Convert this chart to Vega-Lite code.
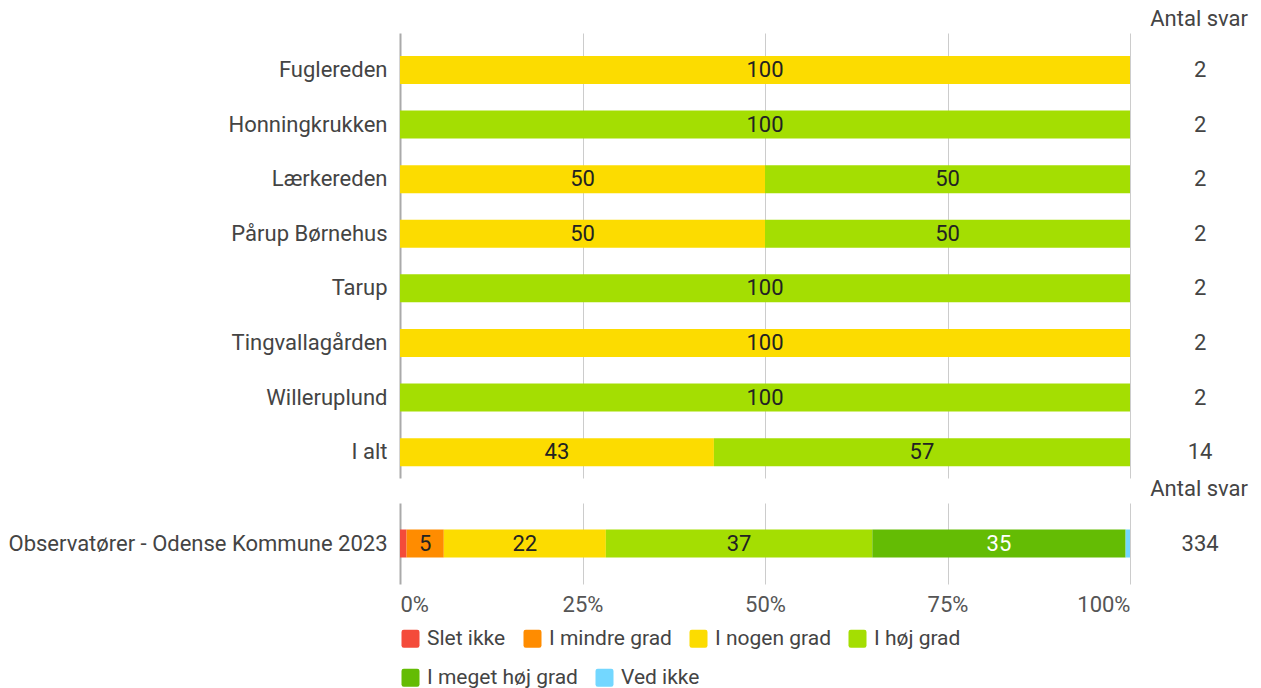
{
  "$schema": "https://vega.github.io/schema/vega-lite/v6.json",
  "padding": {"left": 8, "top": 8, "right": 5, "bottom": 0},
  "background": "white",
  "config": {"view": {"stroke": null}, "font": "Roboto"},
  "datasets": {
    "top": [
      {"unit": "Fuglereden", "cat": "I nogen grad", "k": 3, "pct": 100, "label": "100"},
      {"unit": "Honningkrukken", "cat": "I høj grad", "k": 4, "pct": 100, "label": "100"},
      {"unit": "Lærkereden", "cat": "I nogen grad", "k": 3, "pct": 50, "label": "50"},
      {"unit": "Lærkereden", "cat": "I høj grad", "k": 4, "pct": 50, "label": "50"},
      {"unit": "Pårup Børnehus", "cat": "I nogen grad", "k": 3, "pct": 50, "label": "50"},
      {"unit": "Pårup Børnehus", "cat": "I høj grad", "k": 4, "pct": 50, "label": "50"},
      {"unit": "Tarup", "cat": "I høj grad", "k": 4, "pct": 100, "label": "100"},
      {"unit": "Tingvallagården", "cat": "I nogen grad", "k": 3, "pct": 100, "label": "100"},
      {"unit": "Willeruplund", "cat": "I høj grad", "k": 4, "pct": 100, "label": "100"},
      {"unit": "I alt", "cat": "I nogen grad", "k": 3, "pct": 43, "label": "43"},
      {"unit": "I alt", "cat": "I høj grad", "k": 4, "pct": 57, "label": "57"}
    ],
    "ntop": [
      {"unit": "Fuglereden", "n": 2},
      {"unit": "Honningkrukken", "n": 2},
      {"unit": "Lærkereden", "n": 2},
      {"unit": "Pårup Børnehus", "n": 2},
      {"unit": "Tarup", "n": 2},
      {"unit": "Tingvallagården", "n": 2},
      {"unit": "Willeruplund", "n": 2},
      {"unit": "I alt", "n": 14}
    ],
    "bot": [
      {"unit": "Observatører - Odense Kommune 2023", "kategori": "Slet ikke", "k": 1, "pct": 0.9, "label": ""},
      {"unit": "Observatører - Odense Kommune 2023", "kategori": "I mindre grad", "k": 2, "pct": 5.1, "label": "5"},
      {"unit": "Observatører - Odense Kommune 2023", "kategori": "I nogen grad", "k": 3, "pct": 22.2, "label": "22"},
      {"unit": "Observatører - Odense Kommune 2023", "kategori": "I høj grad", "k": 4, "pct": 36.5, "label": "37"},
      {"unit": "Observatører - Odense Kommune 2023", "kategori": "I meget høj grad", "k": 5, "pct": 34.7, "label": "35"},
      {"unit": "Observatører - Odense Kommune 2023", "kategori": "Ved ikke", "k": 6, "pct": 0.6, "label": ""}
    ],
    "nbot": [
      {"unit": "Observatører - Odense Kommune 2023", "n": 334}
    ]
  },
  "vconcat": [
    {
      "width": 730,
      "height": 445,
      "title": {"text": "Antal svar", "anchor": "end", "frame": "group", "dx": 118, "offset": 2, "fontSize": 22, "font": "Roboto", "fontWeight": "normal", "color": "#444"},
      "layer": [
        {
          "data": {"name": "top"},
          "transform": [
            {"stack": "pct", "groupby": ["unit"], "sort": [{"field": "k", "order": "ascending"}], "as": ["x0", "x1"]}
          ],
          "mark": {"type": "bar"},
          "encoding": {
            "y": {"field": "unit", "type": "nominal",
                  "sort": ["Fuglereden", "Honningkrukken", "Lærkereden", "Pårup Børnehus", "Tarup", "Tingvallagården", "Willeruplund", "I alt"],
                  "scale": {"paddingInner": 0.487, "paddingOuter": 0.319, "align": 0.66},
                  "axis": {"title": null, "domain": false, "ticks": false, "labelFontSize": 22, "labelColor": "#444", "labelPadding": 13, "labelLimit": 450, "labelFont": "Roboto"}},
            "x": {"field": "x0", "type": "quantitative", "scale": {"domain": [0, 100]},
                  "axis": {"title": null, "labels": false, "ticks": false, "domain": false, "values": [0, 25, 50, 75, 100], "minExtent": 0, "maxExtent": 0,
                           "gridColor": {"condition": {"test": "datum.value === 0", "value": "#aaaaaa"}, "value": "#cccccc"},
                           "gridWidth": {"condition": {"test": "datum.value === 0", "value": 2}, "value": 1}}},
            "x2": {"field": "x1"},
            "color": {"field": "cat", "type": "nominal",
                      "scale": {"domain": ["Slet ikke", "I mindre grad", "I nogen grad", "I høj grad", "I meget høj grad", "Ved ikke"],
                                "range": ["#f44b3a", "#ff8c00", "#fcdc00", "#a4de02", "#64bc04", "#73d7ff"]},
                      "legend": {"title": null, "orient": "none", "legendX": 0, "legendY": 595, "direction": "horizontal",
                                 "values": ["Slet ikke", "I mindre grad", "I nogen grad", "I høj grad"],
                                 "symbolType": "M -0.75,-1 L 0.75,-1 Q 1,-1 1,-0.75 L 1,0.75 Q 1,1 0.75,1 L -0.75,1 Q -1,1 -1,0.75 L -1,-0.75 Q -1,-1 -0.75,-1 Z",
                                 "symbolSize": 324, "symbolStrokeWidth": 0, "symbolOpacity": 1,
                                 "labelFontSize": 21, "labelFont": "Roboto", "labelColor": "#444", "labelOffset": 6, "columnPadding": 16, "labelLimit": 300}}
          }
        },
        {
          "data": {"name": "top"},
          "transform": [
            {"stack": "pct", "groupby": ["unit"], "sort": [{"field": "k", "order": "ascending"}], "as": ["x0", "x1"]},
            {"calculate": "(datum.x0 + datum.x1) / 2", "as": "xm"}
          ],
          "mark": {"type": "text", "fontSize": 22, "font": "Roboto", "align": "center", "baseline": "middle"},
          "encoding": {
            "y": {"field": "unit", "type": "nominal", "sort": ["Fuglereden", "Honningkrukken", "Lærkereden", "Pårup Børnehus", "Tarup", "Tingvallagården", "Willeruplund", "I alt"]},
            "x": {"field": "xm", "type": "quantitative"},
            "text": {"field": "label"},
            "color": {"value": "#222222"}
          }
        },
        {
          "data": {"name": "ntop"},
          "mark": {"type": "text", "fontSize": 22, "font": "Roboto", "align": "center", "baseline": "middle", "color": "#444"},
          "encoding": {
            "y": {"field": "unit", "type": "nominal", "sort": ["Fuglereden", "Honningkrukken", "Lærkereden", "Pårup Børnehus", "Tarup", "Tingvallagården", "Willeruplund", "I alt"]},
            "x": {"datum": 109.6, "type": "quantitative"},
            "text": {"field": "n"}
          }
        }
      ]
    },
    {
      "width": 730,
      "height": 81,
      "title": {"text": "Antal svar", "anchor": "end", "frame": "group", "dx": 118, "offset": 2, "fontSize": 22, "font": "Roboto", "fontWeight": "normal", "color": "#444"},
      "layer": [
        {
          "data": {"name": "bot"},
          "transform": [
            {"stack": "pct", "groupby": ["unit"], "sort": [{"field": "k", "order": "ascending"}], "as": ["x0", "x1"]}
          ],
          "mark": {"type": "bar"},
          "encoding": {
            "y": {"field": "unit", "type": "nominal",
                  "scale": {"paddingInner": 0, "paddingOuter": 0.946},
                  "axis": {"title": null, "domain": false, "ticks": false, "labelFontSize": 22, "labelColor": "#444", "labelPadding": 13, "labelLimit": 450, "labelFont": "Roboto"}},
            "x": {"field": "x0", "type": "quantitative", "scale": {"domain": [0, 100]},
                  "axis": {"title": null, "ticks": false, "domain": false, "values": [0, 25, 50, 75, 100], "labelExpr": "datum.value + '%'",
                           "labelFontSize": 22, "labelFont": "Roboto", "labelColor": "#555", "labelPadding": 10, "labelFlush": true,
                           "gridColor": {"condition": {"test": "datum.value === 0", "value": "#aaaaaa"}, "value": "#cccccc"},
                           "gridWidth": {"condition": {"test": "datum.value === 0", "value": 2}, "value": 1}}},
            "x2": {"field": "x1"},
            "fill": {"field": "kategori", "type": "nominal",
                     "scale": {"domain": ["I meget høj grad", "Ved ikke", "Slet ikke", "I mindre grad", "I nogen grad", "I høj grad"],
                               "range": ["#64bc04", "#73d7ff", "#f44b3a", "#ff8c00", "#fcdc00", "#a4de02"]},
                     "legend": {"title": null, "orient": "none", "legendX": 0, "legendY": 634, "direction": "horizontal",
                                "values": ["I meget høj grad", "Ved ikke"],
                                "symbolType": "M -0.75,-1 L 0.75,-1 Q 1,-1 1,-0.75 L 1,0.75 Q 1,1 0.75,1 L -0.75,1 Q -1,1 -1,0.75 L -1,-0.75 Q -1,-1 -0.75,-1 Z",
                                "symbolSize": 324, "symbolStrokeWidth": 0, "symbolOpacity": 1,
                                "labelFontSize": 21, "labelFont": "Roboto", "labelColor": "#444", "labelOffset": 6, "columnPadding": 16, "labelLimit": 300}}
          }
        },
        {
          "data": {"name": "bot"},
          "transform": [
            {"stack": "pct", "groupby": ["unit"], "sort": [{"field": "k", "order": "ascending"}], "as": ["x0", "x1"]},
            {"calculate": "(datum.x0 + datum.x1) / 2", "as": "xm"}
          ],
          "mark": {"type": "text", "fontSize": 22, "font": "Roboto", "align": "center", "baseline": "middle"},
          "encoding": {
            "y": {"field": "unit", "type": "nominal"},
            "x": {"field": "xm", "type": "quantitative"},
            "text": {"field": "label"},
            "color": {"condition": {"test": "datum.kategori === 'I meget høj grad'", "value": "white"}, "value": "#222222"}
          }
        },
        {
          "data": {"name": "nbot"},
          "mark": {"type": "text", "fontSize": 22, "font": "Roboto", "align": "center", "baseline": "middle", "color": "#444"},
          "encoding": {
            "y": {"field": "unit", "type": "nominal"},
            "x": {"datum": 109.6, "type": "quantitative"},
            "text": {"field": "n"}
          }
        }
      ]
    }
  ],
  "spacing": 0
}
